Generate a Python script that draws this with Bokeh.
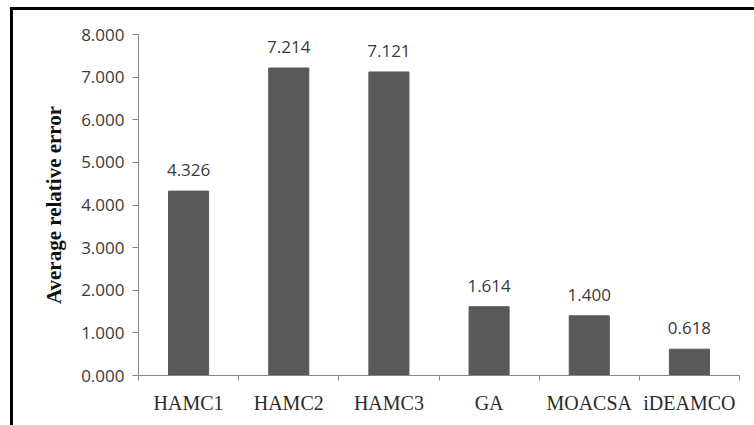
from bokeh.plotting import figure
from bokeh.models import Range1d, FixedTicker, NumeralTickFormatter, ColumnDataSource
from bokeh.core.properties import value
from bokeh.embed import file_html
from bokeh.resources import INLINE

# Average relative error per algorithm
algorithms = ["HAMC1", "HAMC2", "HAMC3", "GA", "MOACSA", "iDEAMCO"]
avg_error = [4.326, 7.214, 7.121, 1.614, 1.400, 0.618]
y_ticks = [0, 1, 2, 3, 4, 5, 6, 7, 8]

centers = [i + 0.5 for i in range(len(algorithms))]
src = ColumnDataSource(dict(
    x=centers,
    top=avg_error,
    label=[f"{v:.3f}" for v in avg_error],
))

BAR = "#595959"
AXIS = "#868686"
NUM_FONT = "Open Sans"
SERIF = "Liberation Serif"

p = figure(
    frame_width=601, frame_height=341,
    min_border_left=125, min_border_top=24, min_border_right=16, min_border_bottom=51,
    x_range=Range1d(0, len(algorithms)), y_range=Range1d(0, 8),
    output_backend="svg", toolbar_location=None,
    margin=(7, 0, 0, 10),
    styles={"border-top": "3px solid black", "border-left": "3px solid black"},
)
p.outline_line_color = None
p.grid.visible = False
p.background_fill_color = "white"
p.border_fill_color = "white"

p.vbar(x="x", top="top", width=0.4, source=src, color=BAR)
p.text(x="x", y="top", text="label", source=src,
       text_align="center", text_baseline="bottom", y_offset=-15,
       text_font=value(NUM_FONT), text_font_size="17px", text_color="#3a3a3a")

# x axis: labels at bar centres, ticks at category boundaries
xa = p.xaxis[0]
xa.ticker = FixedTicker(ticks=centers, minor_ticks=list(range(len(algorithms) + 1)))
xa.major_label_overrides = {c: a for c, a in zip(centers, algorithms)}
xa.major_tick_line_color = None
xa.minor_tick_line_color = AXIS
xa.minor_tick_out = 5
xa.minor_tick_in = 0
xa.axis_line_color = AXIS
xa.major_label_standoff = 10
xa.major_label_text_font = SERIF
xa.major_label_text_font_size = "20px"
xa.major_label_text_color = "#2a2a2a"

ya = p.yaxis[0]
ya.ticker = FixedTicker(ticks=y_ticks)
ya.formatter = NumeralTickFormatter(format="0.000")
ya.axis_line_color = AXIS
ya.major_tick_line_color = AXIS
ya.major_tick_out = 6
ya.major_tick_in = 0
ya.minor_tick_line_color = None
ya.major_label_standoff = 8
ya.major_label_text_font = NUM_FONT
ya.major_label_text_font_size = "17px"
ya.major_label_text_color = "#3a3a3a"
ya.axis_label = "Average relative error"
ya.axis_label_text_font = SERIF
ya.axis_label_text_font_style = "bold"
ya.axis_label_text_font_size = "21px"
ya.axis_label_text_color = "#111111"
ya.axis_label_standoff = 12

open("out.html", "w").write(file_html(p, INLINE))
